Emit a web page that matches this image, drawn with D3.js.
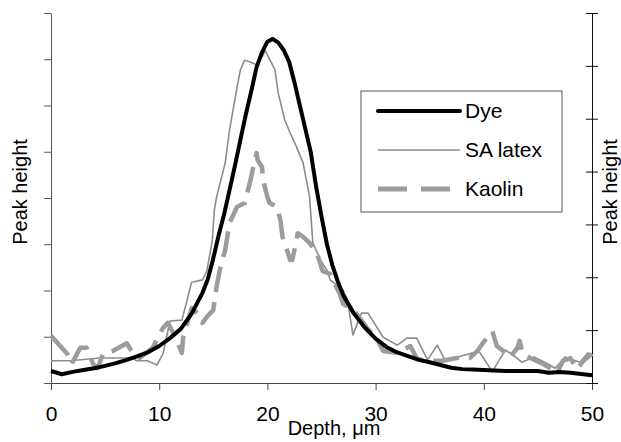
<!DOCTYPE html>
<html>
<head>
<meta charset="utf-8">
<title>Peak height vs depth</title>
<script src="https://cdn.jsdelivr.net/npm/d3@7"></script>
<style>
  body { margin: 0; background: #fff; }
  text { font-family: "Liberation Sans", Arial, sans-serif; fill: #000; }
</style>
</head>
<body>
<div id="chart"></div>
<script>
// depth (um) and peak height (arbitrary units, left axis 0..8)
var dyeDepth  = [0, 1, 2, 3, 4, 5, 6, 7, 8, 9, 10, 11, 12, 13, 14, 14.5, 15, 15.5, 16, 16.5, 17, 17.5, 18, 18.5, 19, 19.5, 20, 20.5, 21, 21.5, 22, 22.5, 23, 23.5, 24, 24.5, 25, 25.5, 26, 26.5, 27, 28, 29, 30, 31, 32, 33, 34, 35, 36, 37, 38, 39, 40, 42, 44, 45, 46, 47, 48, 50];
var dyeHeight = [0.26, 0.19, 0.24, 0.28, 0.32, 0.37, 0.43, 0.5, 0.58, 0.67, 0.8, 0.97, 1.17, 1.5, 1.95, 2.25, 2.7, 3.2, 3.65, 4.17, 4.7, 5.25, 5.8, 6.3, 6.83, 7.15, 7.38, 7.44, 7.36, 7.2, 6.95, 6.5, 6.0, 5.5, 5.0, 4.25, 3.6, 3.0, 2.55, 2.2, 1.9, 1.5, 1.2, 0.96, 0.78, 0.66, 0.58, 0.5, 0.45, 0.39, 0.33, 0.3, 0.29, 0.28, 0.26, 0.26, 0.26, 0.22, 0.24, 0.22, 0.17];

var latexDepth  = [0, 1.8, 4.5, 7.6, 7.9, 8.9, 9.8, 10.35, 11, 12.1, 13, 14, 14.4, 14.9, 15.1, 15.3, 16.1, 16.5, 17.2, 17.5, 17.9, 18.4, 19, 19.5, 19.8, 20.1, 20.7, 21, 21.6, 22.1, 22.7, 23.3, 23.9, 24.2, 24.9, 25.5, 25.8, 27, 27.4, 27.9, 28.7, 29.3, 30.7, 32, 32.9, 33.8, 34.8, 35.7, 36.4, 37.3, 38.9, 39.6, 40.8, 41.3, 42, 42.7, 43.5, 44.7, 45.8, 46.6, 47.5, 48.2, 48.9, 49.6, 50];
var latexHeight = [0.48, 0.48, 0.54, 0.54, 0.48, 0.48, 0.39, 0.63, 1.34, 1.36, 2.18, 2.23, 2.42, 3.07, 3.74, 4.02, 4.76, 5.47, 6.4, 6.77, 6.98, 6.94, 6.88, 7.05, 7.18, 7.05, 6.77, 6.27, 5.69, 5.41, 5.1, 4.76, 4.02, 3.03, 2.66, 2.44, 2.23, 2.01, 1.79, 1.04, 1.51, 1.51, 0.99, 0.82, 0.97, 0.97, 0.5, 0.82, 0.5, 0.54, 0.65, 0.67, 0.24, 0.45, 0.71, 0.61, 0.45, 0.56, 0.43, 0.32, 0.56, 0.5, 0.45, 0.65, 0.6];

var kaolinDepth  = [0, 1.5, 1.9, 2.7, 3.3, 3.9, 4.3, 4.8, 5.7, 7, 7.6, 8.2, 9.4, 10.35, 10.8, 11.3, 12.1, 12.2, 12.6, 13, 13.5, 14, 14.4, 15, 15.3, 15.6, 16.1, 16.5, 17.2, 17.9, 18.2, 18.4, 18.7, 19, 19.1, 19.5, 19.6, 20, 20.2, 20.9, 21.2, 21.4, 21.8, 22.1, 22.3, 22.7, 22.8, 23.3, 23.9, 24.6, 25.1, 25.8, 26.7, 27, 27.9, 29.2, 30.1, 30.7, 32, 33.2, 33.8, 34.4, 36.2, 37.5, 38.7, 39.4, 39.9, 40.8, 41.2, 41.8, 42.4, 43.1, 43.3, 43.6, 44.3, 45.5, 46.8, 47.3, 48, 48.6, 49.2, 50];
var kaolinHeight = [1.02, 0.63, 0.41, 0.76, 0.76, 0.41, 0.32, 0.63, 0.69, 0.86, 0.63, 0.54, 0.76, 1.19, 1.3, 1.08, 0.65, 0.97, 1.3, 1.62, 1.51, 1.3, 1.43, 1.58, 2.08, 2.44, 2.88, 3.46, 3.81, 3.89, 4.17, 4.35, 4.67, 4.97, 4.82, 4.67, 4.39, 4.02, 3.89, 3.81, 3.52, 3.16, 2.88, 2.66, 2.66, 3.09, 3.24, 3.16, 3.03, 2.79, 2.42, 2.36, 1.92, 1.71, 1.6, 1.19, 0.97, 0.69, 0.65, 0.8, 0.54, 0.48, 0.48, 0.54, 0.54, 0.69, 0.86, 1.12, 0.8, 0.69, 0.54, 0.76, 0.91, 0.63, 0.54, 0.41, 0.22, 0.48, 0.54, 0.3, 0.48, 0.63];

var xTicks = [0, 10, 20, 30, 40, 50];
var seriesNames = ['Dye', 'SA latex', 'Kaolin'];

(function(d3) {
    'use strict';

    var width = 621, height = 442;
    var plotLeft = 51, plotRight = 592, plotTop = 13, plotBottom = 383;

    var svg = d3.select('#chart').append('svg')
        .attr('width', width)
        .attr('height', height);

    var x = d3.scaleLinear().domain([0, 50]).range([plotLeft, plotRight]);
    var yL = d3.scaleLinear().domain([0, 8]).range([plotBottom, plotTop]);
    var yR = d3.scaleLinear().domain([0, 7]).range([plotBottom, plotTop]);

    // axes
    var gx = svg.append('g')
        .attr('transform', 'translate(0,' + plotBottom + ')')
        .call(d3.axisBottom(x).tickValues(xTicks).tickSize(7).tickSizeOuter(0));
    gx.select('.domain').attr('stroke', '#444');
    gx.selectAll('.tick line').attr('stroke', '#444');
    gx.selectAll('.tick text')
        .style('font-size', '21px')
        .attr('dy', 0)
        .attr('y', 38);

    var gl = svg.append('g')
        .attr('transform', 'translate(' + plotLeft + ',0)')
        .call(d3.axisLeft(yL).ticks(8).tickSize(7).tickSizeOuter(0).tickFormat(''));
    gl.select('.domain').attr('stroke', '#555');
    gl.selectAll('.tick line').attr('stroke', '#555');

    var gr = svg.append('g')
        .attr('transform', 'translate(' + plotRight + ',0)')
        .call(d3.axisRight(yR).ticks(7).tickSize(6).tickSizeOuter(0).tickFormat(''));
    gr.select('.domain').attr('stroke', '#111');
    gr.selectAll('.tick line').attr('stroke', '#111').attr('x1', -6);

    // axis titles
    svg.append('text')
        .attr('transform', 'translate(27,192) rotate(-90)')
        .attr('text-anchor', 'middle')
        .style('font-size', '20px')
        .text('Peak height');

    svg.append('text')
        .attr('transform', 'translate(617,192) rotate(-90)')
        .attr('text-anchor', 'middle')
        .style('font-size', '20px')
        .text('Peak height');

    svg.append('text')
        .attr('x', 334)
        .attr('y', 435)
        .attr('text-anchor', 'middle')
        .style('font-size', '20px')
        .text('Depth, μm');

    // lines
    function pts(xs, ys) {
        return xs.map(function(d, i) { return [d, ys[i]]; });
    }
    var line = d3.line()
        .x(function(d) { return x(d[0]); })
        .y(function(d) { return yL(d[1]); });

    svg.append('path')
        .attr('d', line(pts(latexDepth, latexHeight)))
        .attr('fill', 'none')
        .attr('stroke', '#8c8c8c')
        .attr('stroke-width', 1.6)
        .attr('stroke-linejoin', 'round');

    svg.append('path')
        .attr('d', line(pts(kaolinDepth, kaolinHeight)))
        .attr('fill', 'none')
        .attr('stroke', '#9c9c9c')
        .attr('stroke-width', 4.5)
        .attr('stroke-dasharray', '26,10')
        .attr('stroke-linejoin', 'round');

    svg.append('path')
        .attr('d', line(pts(dyeDepth, dyeHeight)))
        .attr('fill', 'none')
        .attr('stroke', '#000')
        .attr('stroke-width', 4)
        .attr('stroke-linejoin', 'round');

    // legend
    var legend = svg.append('g').attr('transform', 'translate(361,91)');
    legend.append('rect')
        .attr('width', 201)
        .attr('height', 121)
        .attr('fill', '#fff')
        .attr('stroke', '#555')
        .attr('stroke-width', 1);

    var legStyle = [
        { stroke: '#000', w: 4, dash: null },
        { stroke: '#8c8c8c', w: 1.6, dash: null },
        { stroke: '#9c9c9c', w: 5, dash: '29,14' }
    ];
    var item = legend.selectAll('.item')
        .data(seriesNames)
        .enter().append('g')
        .attr('class', 'item')
        .attr('transform', function(d, i) { return 'translate(0,' + (20 + i * 39) + ')'; });

    item.append('line')
        .attr('x1', 17).attr('x2', 99)
        .attr('stroke', function(d, i) { return legStyle[i].stroke; })
        .attr('stroke-width', function(d, i) { return legStyle[i].w; })
        .attr('stroke-dasharray', function(d, i) { return legStyle[i].dash; })
        .attr('stroke-linecap', function(d, i) { return i === 0 ? 'round' : 'butt'; });

    item.append('text')
        .attr('x', 104)
        .attr('y', 7)
        .style('font-size', '21px')
        .text(function(d) { return d; });
})(window.d3);
</script>
</body>
</html>
